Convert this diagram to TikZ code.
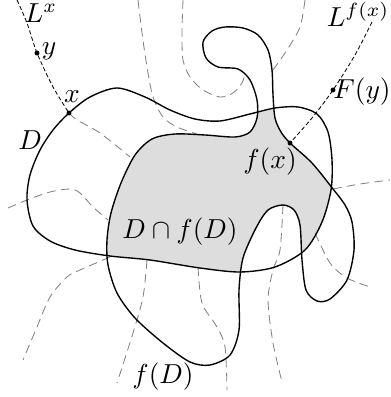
\documentclass[tikz,border=0pt]{standalone}
\usepackage{amsmath}
\usepackage{amssymb}
\usetikzlibrary{positioning}

\newcommand{\regionD}{plot[smooth cycle] coordinates {(69,113) (90,97) (117,88) (145,97) (170,110) (195,119) (220,121) (250,114) (275,108) (298,107) (317,114) (328,132) (332,160) (331,190) (322,222) (305,250) (275,267) (240,272) (200,268) (150,260) (110,256) (75,250) (50,241) (33,226) (27,200) (30,175) (40,150) (53,130)}}
\newcommand{\regionfD}{plot[smooth cycle] coordinates {(290,143) (312,163) (333,189) (345,205) (352,222) (354,250) (347,280) (330,299) (317,301) (306,290) (302,260) (300,225) (294,210) (283,205) (268,210) (256,228) (243,258) (239,290) (239,330) (230,355) (210,365) (190,362) (163,343) (135,318) (117,293) (108,265) (107,240) (111,213) (121,183) (135,155) (152,139) (175,134) (205,135) (235,137) (250,132) (257,118) (257,100) (250,80) (238,69) (218,67) (206,58) (203,42) (212,31) (225,27) (243,28) (258,35) (268,50) (272,70) (273,95) (275,118) (281,132)}}

\begin{document}
\begin{tikzpicture}[x=0.0128cm, y=-0.0128cm,
  leaf/.style={gray, line width=0.3pt, dash pattern=on 3.2pt off 1.9pt},
  fibre/.style={black, line width=0.3pt, dash pattern=on 1.5pt off 0.9pt},
  bdry/.style={black, line width=0.5pt},
  pt/.style={circle, fill=black, inner sep=0pt, minimum size=1.8pt}]

  \useasboundingbox (0,0) rectangle (390,397);

  \coordinate (x) at (69,113);
  \coordinate (y) at (37,53);

  \coordinate (fx) at (290,143);
  \coordinate (Fy) at (333,90);

  % the intersection
  \begin{scope}
    \clip \regionD;
    \fill[gray!27] \regionfD;
  \end{scope}

  % leaves
  \draw[leaf] plot[smooth] coordinates {(x) (77,120) (100,133) (130,157)};
  \draw[leaf] plot[smooth] coordinates {(138,0) (142,33) (147,67) (153,97) (163,117) (177,127) (197,134)};
  \draw[leaf] plot[smooth] coordinates {(183,0) (182,33) (183,60) (190,77) (203,90) (220,97) (233,93) (242,83) (245,73)};
  \draw[leaf] plot[smooth] coordinates {(305,0) (300,27) (287,50) (273,70)};
  \draw[leaf] plot[smooth] coordinates {(8,208) (27,200) (50,192) (70,189) (80,193) (93,207) (108,220)};
  \draw[leaf] plot[smooth] coordinates {(110,257) (80,270) (67,277) (50,297) (37,327) (23,360)};
  \draw[leaf] plot[smooth] coordinates {(147,260) (143,297) (133,333) (117,383)};
  \draw[leaf] plot[smooth] coordinates {(198,267) (202,303) (217,327) (225,347) (227,390)};
  \draw[leaf] plot[smooth] coordinates {(283,205) (280,250) (273,270) (268,300) (273,343) (282,382)};
  \draw[leaf] plot[smooth] coordinates {(315,233) (330,263) (347,278) (370,287)};
  \draw[leaf] plot[smooth] coordinates {(333,189) (360,184) (390,180)};

  % L^x and L^{f(x)}
  \draw[fibre] plot[smooth] coordinates {(17,0) (27,23) (y) (53,87) (x)};
  \draw[fibre] plot[smooth] coordinates {(372,22) (355,55) (Fy) (312,118) (fx)};

  % D and f(D)
  \draw[bdry] \regionD;
  \draw[bdry] \regionfD;

  \node[pt] (xdot) at (x) {};
  \node[pt] (ydot) at (y) {};
  \node[pt] (fxdot) at (fx) {};
  \node[pt] (Fydot) at (Fy) {};

  \node (Lx) at (41,13) {$L^x$};
  \node (ylab) at (49,51) {$y$};
  \node (xlab) at (72,97) {$x$};
  \node (Dlab) at (30,140) {$D$};
  \node (Lfx) at (358,14) {$L^{f(x)}$};
  \node (Fylab) at (362,92) {$F(y)$};
  \node (fxlab) at (270,162) {$f(x)$};
  \node (caplab) at (180,232) {$D\cap f(D)$};
  \node (fDlab) at (163,377) {$f(D)$};

\end{tikzpicture}
\end{document}
